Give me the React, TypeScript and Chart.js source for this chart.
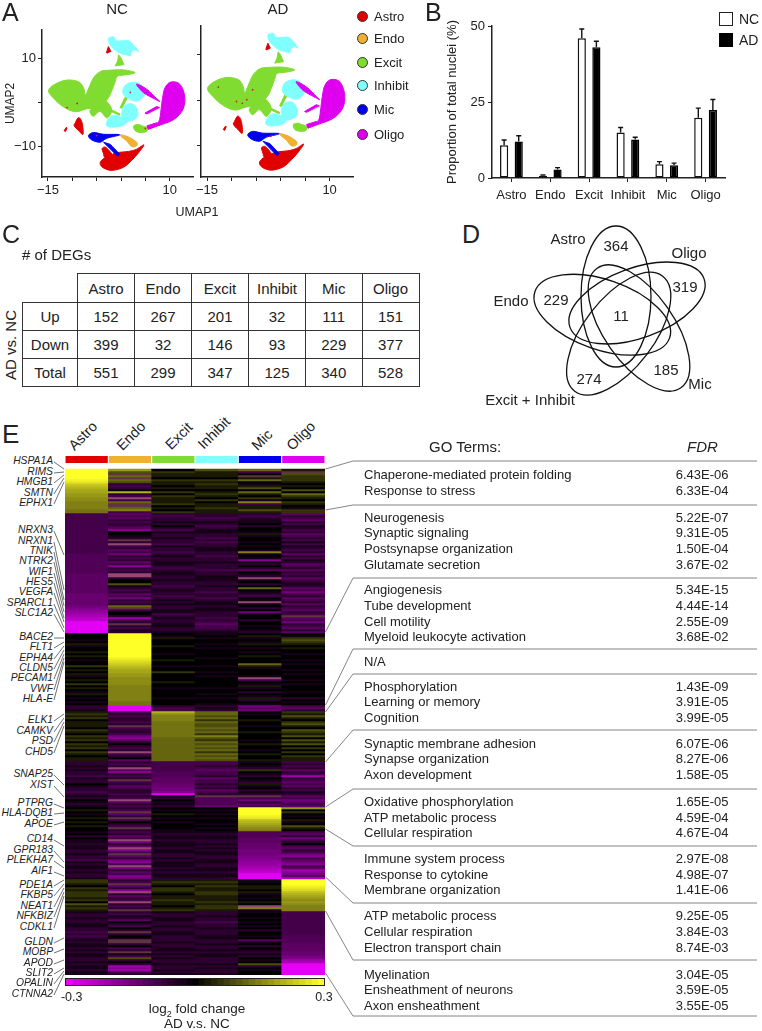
import React, { useEffect, useRef } from "react";
import { Chart, registerables } from "chart.js";
Chart.register(...registerables);

const FONT = '"Liberation Sans", Arial, sans-serif';
Chart.defaults.font.family = FONT;
Chart.defaults.color = "#222";

/* ---------- shared ---------- */
const cellTypes = ["Astro", "Endo", "Excit", "Inhibit", "Mic", "Oligo"];
const cellColors = ["#e00000", "#f0b030", "#80dc30", "#80ffff", "#0000f0", "#e000f0"];

/* ---------- A: UMAP outlines, in UMAP units ---------- */
type P = [number, number];
const excitMain: P[] = [[-14.9,2.6],[-13.5,4.1],[-11.1,5],[-8.7,4.6],[-7.7,3.2],[-7.3,1.6],[-6.7,3],[-5.6,5.6],[-4.3,6.9],[-2.9,7.2],[0.5,7.3],[2.9,6.7],[1.2,6.2],[-0.7,5.9],[-1.2,4.6],[-1.9,2.6],[-2.7,0.8],[-4.8,-1.3],[-6.9,-1.5],[-9.4,-2.2],[-11.8,-1.1],[-13.8,0.8]];
const excitTop: P[] = [[-0.5,10.7],[0,10],[0.6,8.5],[-1.2,8.2],[-0.7,9.3]];
const excitMid: P[] = [[-6.3,-1.8],[-5,-0.7],[-3.9,0.4],[-2.9,0.1],[-1.9,-1.8],[-2.9,-3.6],[-4.3,-2.1],[-5.6,-3.2],[-6.2,-2.7]];
const excitLower: P[] = [[2.6,-5.4],[3.6,-5.1],[4.3,-5.4],[5.3,-5.8],[5.2,-6.7],[3.9,-6.9],[2.9,-6.5]];
const excitStrandA: P[] = [[-0.2,-1.25],[1.1,1.7],[1.3,1.0],[0.2,-1.4]];
const excitStrandB: P[] = [[-1.9,-1.8],[-0.2,-2.7],[-0.3,-3.0],[-2.1,-2.1]];
const inhibitTop: P[] = [[-2.6,14.4],[-1.5,14.8],[-0.9,13.9],[1.5,13.9],[2.6,12.9],[3.6,11.5],[2.9,11.8],[2.2,11.5],[1.9,10.5],[1.1,10.7],[-0.2,11.1],[-1.2,11.8],[-2.2,12.9]];
const inhibitBlobA: P[] = [[0.4,2.9],[1.2,4.1],[2.9,4.5],[4.3,3.75],[4.9,2.6],[4.6,1.2],[3.2,0.2],[1.5,0.8],[0.5,1.7]];
const inhibitBlobB: P[] = [[0.2,-2.1],[0.8,-0.7],[2.2,-0.4],[3.2,-1.4],[3.4,-3.2],[2.2,-4.2],[0.8,-4.2],[0.2,-3.2]];
const inhibitBlobC: P[] = [[-3,-4.7],[-2.4,-3.5],[-1.2,-3],[0.4,-3.6],[1.2,-4.5],[0.2,-5.4],[-1.9,-5.7],[-2.9,-5.4]];
const oligoMain: P[] = [[10.1,4.5],[11.8,4.3],[12.8,2.6],[13.1,0.1],[12.5,-2.1],[11.1,-3.75],[9.4,-4.7],[7.3,-5.3],[7.9,-4],[8.2,-1.8],[8.5,0.8],[9,3.2]];
const oligoStrandA: P[] = [[3.2,4.1],[5.3,2.9],[7.3,0.8],[8,0.1],[6.7,0.8],[4.9,1.9],[3.9,2.9]];
const oligoStrandB: P[] = [[4.9,-2.5],[7.3,-1],[7.9,-1.25],[5.3,-2.7]];
const oligoTail: P[] = [[5.3,-5.4],[7.3,-4.7],[8,-5.2],[5.6,-6.2]];
const astroMain: P[] = [[-4.3,-13.9],[-3.7,-14.9],[-1.9,-15.5],[0.5,-14.8],[2.2,-13.2],[3.6,-11.5],[4.7,-9.7],[3.2,-10.7],[1.5,-11.2],[-0.9,-11.5],[-2.6,-12.3],[-3.8,-13]];
const astroBranch: P[] = [[-3.9,-10.6],[-3.3,-10.2],[-2.6,-10.8],[-1.9,-11.8],[-1.9,-12.4],[-3.3,-12.6],[-3.6,-11.7]];
const astroLeft: P[] = [[-9.4,-4.7],[-8.7,-3.5],[-8,-4.7],[-7.8,-7.3],[-8.7,-6.5],[-9.6,-5.4]];
const astroTiny: P[] = [[-11.7,-6.5],[-11.2,-5.7],[-11.1,-5.9],[-11.4,-6.7]];
const astroTop: P[] = [[-3,11.25],[-2.6,12.6],[-2.1,11.5],[-2.9,11.1]];
const micMain: P[] = [[-6.7,-7.6],[-5.6,-6.9],[-3.6,-7.3],[-0.2,-7.4],[-2.9,-8.2],[-4.3,-9.1],[-6,-8.6]];
const micStrand: P[] = [[-3.6,-9.1],[-2.2,-9.6],[-0.3,-11.8],[-0.7,-12.3],[-2.6,-10.2]];
const endoMain: P[] = [[-0.2,-7.4],[1.5,-7.9],[3.2,-9.1],[3.2,-9.9],[2.2,-10.1],[1.1,-8.75],[0.2,-8]];
const umapShapes: { pts: P[]; c: number }[] = [
  { pts: excitMain, c: 2 }, { pts: excitTop, c: 2 }, { pts: excitMid, c: 2 }, { pts: excitLower, c: 2 },
  { pts: excitStrandA, c: 2 }, { pts: excitStrandB, c: 2 },
  { pts: inhibitTop, c: 3 }, { pts: inhibitBlobA, c: 3 }, { pts: inhibitBlobB, c: 3 }, { pts: inhibitBlobC, c: 3 },
  { pts: oligoMain, c: 5 }, { pts: oligoStrandA, c: 5 }, { pts: oligoStrandB, c: 5 }, { pts: oligoTail, c: 5 },
  { pts: astroMain, c: 0 }, { pts: astroBranch, c: 0 }, { pts: astroLeft, c: 0 }, { pts: astroTiny, c: 0 }, { pts: astroTop, c: 0 },
  { pts: micMain, c: 4 }, { pts: micStrand, c: 4 }, { pts: endoMain, c: 1 },
];
const specksNC: P[] = [[-11.1,-1.25],[-9,-0.3],[-5,-7.6],[1.9,2.2],[5,-6]];
const specksAD: P[] = [[-12.7,2.9],[-6.9,0.1],[-5.7,2.3],[-9,-0.3],[-7.8,-0.7],[-2,-8]];
const umapXTicks = [-15, -10, -5, 0, 5, 10];
const umapYTicks = [-10, 0, 10];

/* ---------- B ---------- */
const nucleiNC = [10.8, 0.7, 46, 15, 4.5, 19.8];
const nucleiAD = [12, 2.8, 43, 12.7, 4.2, 22.4];
const nucleiNCTop = [12.5, 1, 49, 16.6, 5.4, 23];
const nucleiADTop = [13.9, 3.4, 45, 13.4, 4.9, 25.8];

/* ---------- C ---------- */
const degRows = ["Up", "Down", "Total"];
const degUp = [152, 267, 201, 32, 111, 151];
const degDown = [399, 32, 146, 93, 229, 377];
const degTotal = [551, 299, 347, 125, 340, 528];

/* ---------- D ---------- */
const vennSets = ["Astro", "Oligo", "Mic", "Excit + Inhibit", "Endo"];
const vennCx = [106, 127, 129, 108.7, 92.3];
const vennCy = [81.5, 88, 113, 118.7, 99.7];
const vennAngles = [0, 70, -35, 37.4, -71];
const vennLong = [70.5, 71.3, 73, 72.4, 71.2];

/* ---------- E: heatmap, one string per block per column.
   0 none; 1..9 +0.03..+0.27; X +0.3; half steps A=.135 B=.165 C=.195 D=.225 E=.255 F=.285
   a..j -0.03..-0.30; half steps k=-.105 l=-.135 m=-.165 n=-.195 o=-.225 p=-.255
   u, v mixed stripes ---------- */
const blockRows = [22, 60, 36, 3, 25, 17, 6, 12, 24, 16, 32];
const astroCol = [
  "XXXXXF98D7CC66BB5555AA",
  "cccccccccccccccccccckkkkkkkkkkddddddddddllllllemfngohpjjjjjj",
  "000a01a001010a0020101a0102010a10a0a0", "bba",
  "1212011102102120212021011", "bbababbcabb0abbcb", "ab0aba", "010a01010100",
  "a0b0aabaabbabbcabaababba", "2210212221203121", "abbabbaabbcbcbabaababaabbabaabaa",
];
const endoCol = [
  "63v4v43bcb07bcuc4vv45c",
  "dcdbcbcdf00abvbucbdcebcbdcfbcbuub003abcbdcebcb4vc00bgcbvbcab",
  "XXXXXXXXXXXXF9E8D7CC66BBBB55555555AA", "jjj",
  "cbcbbcbvcbbcefdb0bcbucb0d", "bcbudfbcbvcbdcbbc", "bcudbc", "bcvdbvc0bcvb",
  "cbdcuebdufcvdbefcuebdcfe", "bcvdbfubdbcubcbv", "bcabd0bc0bvb0avvb0cbvac3b0bgfgcb",
];
const excitCol = [
  "0211021101020211120102",
  "bcbbab0bcabbabbcabbcbabbaabcbaabbabbcbabbcbababbaacbabbaabba",
  "0a10001000a00100a0020000100a0000a000", "bcc",
  "7B555AAAAAAAA444444444444", "ccccckkkdddlleefj", "ab0aab", "0a010a0a000a",
  "abaabaaabaabbabaaababaab", "1210221011211012", "abbaabbabbaabbbabbaabababbabbaba",
];
const inhibitCol = [
  "3111021211012102011211",
  "bbcbabcbaabbcbcbbaabbcbbabbbcbbaaabbabbcbbcbaabaabbbcbcdccba",
  "a0a00a0a0000a000a00a0a00000a00a0a00a", "bab",
  "4434243343425324343424343", "ccbcdccbdccbcbdcb", "vkkkkl", "0a0a0a00a0a0",
  "abaabbababaabbaabbaabaab", "1212112211121221", "bbabbcbbabbbaabbabbabaabbbababba",
];
const micCol = [
  "4c0v140a1304102a5c1131",
  "bcbaa0b00a1a00a0a0a5a0afab0bd0abua0b040abc0aua0b0ea00b00a0ab",
  "01a0a10a0a0100041a000auc0a1a0b0a1b0a", "ede",
  "0a00100a001000a0100a01001", "a0ab20ab0ab1a0bab", "vcebdc", "XXXXF9D7C6B5",
  "kkkdddllleeemmfnngohpjjj", "0a01101a0a010u5a", "a00a0a0a0b00a0da0b0abab0a03b0a00",
];
const oligoCol = [
  "1v32221010304210210a22",
  "dbcdbcabcbdcbcacabcbdbcabdcbdbcbdcbabdcecbdcbdbcdbcvdcebcdbd",
  "0a23210100a00a0a00a0a00a0a000a00b0a0", "cdb",
  "2131023103213031302020211", "cbcbdbcgbcdcdbcab", "dcedcd", "6020a01a0310",
  "cdbecb0cdbcefcdefcdgfedh", "XXXF9ED7C6B6B555", "cccccccccccckkkkddddllemgojjjjjj",
];
const heatColumns = [astroCol, endoCol, excitCol, inhibitCol, micCol, oligoCol];
const colorbarSteps = [-0.3,-0.285,-0.27,-0.255,-0.24,-0.225,-0.21,-0.195,-0.18,-0.165,-0.15,-0.135,-0.12,-0.105,-0.09,-0.075,-0.06,-0.045,-0.03,-0.015,0,0.015,0.03,0.045,0.06,0.075,0.09,0.105,0.12,0.135,0.15,0.165,0.18,0.195,0.21,0.225,0.24,0.255,0.27,0.285,0.3];

const geneLabels = ["HSPA1A","RIMS","HMGB1","SMTN","EPHX1","NRXN3","NRXN1","TNIK","NTRK2","WIF1","HES5","VEGFA","SPARCL1","SLC1A2","BACE2","FLT1","EPHA4","CLDN5","PECAM1","VWF","HLA-E","ELK1","CAMKV","PSD","CHD5","SNAP25","XIST","PTPRG","HLA-DQB1","APOE","CD14","GPR183","PLEKHA7","AIF1","PDE1A","FKBP5","NEAT1","NFKBIZ","CDKL1","GLDN","MOBP","APOD","SLIT2","OPALIN","CTNNA2"];
const geneY = [461,472,482,493,503,530,541,551,561,572,582,592,603,613,637,647,658,668,678,689,699,720,731,741,752,774,785,803,813,824,839,850,860,871,885,895,906,916,927,942,952,963,973,983,994];
const geneTarget = [469,472,475,478,482,555,590,600,606,612,618,622,628,632,638,642,646,650,654,658,662,714,718,722,726,785,797,808,813,822,846,862,868,876,880,884,888,892,896,938,949,960,968,971,974];

const goTerms = ["Chaperone-mediated protein folding","Response to stress","Neurogenesis","Synaptic signaling","Postsynapse organization","Glutamate secretion","Angiogenesis","Tube development","Cell motility","Myeloid leukocyte activation","N/A","Phosphorylation","Learning or memory","Cognition","Synaptic membrane adhesion","Synapse organization","Axon development","Oxidative phosphorylation","ATP metabolic process","Cellular respiration","Immune system process","Response to cytokine","Membrane organization","ATP metabolic process","Cellular respiration","Electron transport chain","Myelination","Ensheathment of neurons","Axon ensheathment"];
const goFdr = ["6.43E-06","6.33E-04","5.22E-07","9.31E-05","1.50E-04","3.67E-02","5.34E-15","4.44E-14","2.55E-09","3.68E-02","","1.43E-09","3.91E-05","3.99E-05","6.07E-06","8.27E-06","1.58E-05","1.65E-05","4.59E-04","4.67E-04","2.97E-08","4.98E-07","1.41E-06","9.25E-05","3.84E-03","8.74E-03","3.04E-05","3.59E-05","3.55E-05"];
const goY = [474,489.7,516.7,532.3,548,563.7,589.3,605,620.7,636.3,661.3,685.7,701.3,717,742.7,758.3,774,801,816.7,832.3,858.3,873.7,889.3,915.3,931,946.7,973.7,989.3,1005];
const goRules = [[469,461],[510,505],[632,578],[705,649],[712,674],[762,730],[807,789],[829,846],[877,903],[911,960],[973,1016]];

/* ---------- helpers ---------- */
function heatColor(v: number): string {
  const t = Math.min(1, Math.abs(v) / 0.3);
  if (v >= 0) return `rgb(${Math.round(255 * t)},${Math.round(255 * t)},${Math.round(40 * t)})`;
  return `rgb(${Math.round(228 * t)},0,${Math.round(245 * t)})`;
}
const halfUp: Record<string, number> = { A: 0.135, B: 0.165, C: 0.195, D: 0.225, E: 0.255, F: 0.285, X: 0.3 };
const halfDown: Record<string, number> = { k: -0.105, l: -0.135, m: -0.165, n: -0.195, o: -0.225, p: -0.255 };
function cellColor(ch: string): string {
  if (ch === "u") return "rgb(150,72,115)";
  if (ch === "v") return "rgb(95,52,66)";
  if (ch in halfUp) return heatColor(halfUp[ch]);
  if (ch in halfDown) return heatColor(halfDown[ch]);
  if (ch >= "1" && ch <= "9") return heatColor(Number(ch) * 0.03);
  if (ch >= "a" && ch <= "j") return heatColor(-(ch.charCodeAt(0) - 96) * 0.03);
  return "rgb(0,0,0)";
}
function fixedBox(left: number, top: number, right: number, bottom: number) {
  return {
    layout: { padding: { left: 0, top, right, bottom: 0 } },
    leftFit: (s: any) => { s.width = left; },
    bottomFit: (s: any) => { s.height = bottom; },
  };
}
const polygonPlugin = {
  id: "polygons",
  beforeDatasetsDraw(chart: any) {
    const { ctx, scales: { x, y } } = chart;
    chart.data.datasets.forEach((d: any) => {
      if (!d.polygon) return;
      const pts = d.data.map((p: any) => [x.getPixelForValue(p.x), y.getPixelForValue(p.y)]);
      const n = pts.length;
      ctx.beginPath();
      ctx.moveTo(pts[0][0], pts[0][1]);
      for (let i = 0; i < n; i++) {
        const p0 = pts[(i - 1 + n) % n], p1 = pts[i], p2 = pts[(i + 1) % n], p3 = pts[(i + 2) % n];
        if (n >= 6) {
          ctx.bezierCurveTo(p1[0] + (p2[0] - p0[0]) / 6, p1[1] + (p2[1] - p0[1]) / 6, p2[0] - (p3[0] - p1[0]) / 6, p2[1] - (p3[1] - p1[1]) / 6, p2[0], p2[1]);
        } else {
          ctx.lineTo(p2[0], p2[1]);
        }
      }
      ctx.closePath();
      ctx.fillStyle = d.polygon;
      ctx.strokeStyle = d.polygon;
      ctx.lineJoin = "round";
      ctx.lineWidth = 1;
      ctx.fill();
      ctx.stroke();
    });
  },
};
const errorPlugin = {
  id: "errorBars",
  afterDatasetsDraw(chart: any) {
    const { ctx, scales: { y } } = chart;
    chart.data.datasets.forEach((d: any, i: number) => {
      const meta = chart.getDatasetMeta(i);
      d.tops.forEach((top: number, j: number) => {
        const bx = meta.data[j].x, y0 = y.getPixelForValue(d.data[j]), y1 = y.getPixelForValue(top);
        ctx.strokeStyle = "#111";
        ctx.lineWidth = 1.4;
        ctx.beginPath();
        ctx.moveTo(bx, y0); ctx.lineTo(bx, y1);
        ctx.moveTo(bx - 2.5, y1); ctx.lineTo(bx + 2.5, y1);
        ctx.stroke();
      });
    });
  },
};
const vennPlugin = {
  id: "venn",
  afterDatasetsDraw(chart: any) {
    const { ctx, scales: { x, y } } = chart;
    chart.data.datasets.forEach((d: any) => {
      const p = d.data[0];
      ctx.beginPath();
      ctx.ellipse(x.getPixelForValue(p.x), y.getPixelForValue(p.y), 35, d.long, (d.angle * Math.PI) / 180, 0, Math.PI * 2);
      ctx.strokeStyle = "#111";
      ctx.lineWidth = 1.3;
      ctx.stroke();
    });
  },
};

function T(props: { x: number; y: number; s: number; children: any; anchor?: "l" | "c" | "r"; rot?: number; italic?: boolean; color?: string }) {
  const { x, y, s, children, anchor = "c", rot = 0, italic, color = "#222" } = props;
  const tx = anchor === "l" ? "0" : anchor === "r" ? "-100%" : "-50%";
  return (
    <span style={{ position: "absolute", left: x, top: y, fontSize: s, lineHeight: 1, whiteSpace: "nowrap", color, fontStyle: italic ? "italic" : "normal", transform: `translate(${tx},-50%) rotate(${rot}deg)` }}>
      {children}
    </span>
  );
}

export default function App() {
  const umapNC = useRef<HTMLCanvasElement>(null);
  const umapAD = useRef<HTMLCanvasElement>(null);
  const bars = useRef<HTMLCanvasElement>(null);
  const venn = useRef<HTMLCanvasElement>(null);
  const heat = useRef<HTMLCanvasElement>(null);
  const cbar = useRef<HTMLCanvasElement>(null);

  useEffect(() => {
    const charts: Chart[] = [];
    const base = { animation: false as const, responsive: false, events: [] as any[], plugins: { legend: { display: false }, tooltip: { enabled: false } } };

    const makeUmap = (el: HTMLCanvasElement, specks: P[], showY: boolean, box: any) => {
      const fit = fixedBox(box.left, box.top, box.right, box.bottom);
      return new Chart(el, {
        type: "scatter",
        data: {
          datasets: [
            ...umapShapes.map((s) => ({ polygon: cellColors[s.c], data: s.pts.map(([x, y]) => ({ x, y })), pointRadius: 0, showLine: false })),
            { data: specks.map(([x, y]) => ({ x, y })), pointRadius: 0.9, backgroundColor: "#d02020", borderWidth: 0, showLine: false },
          ] as any,
        },
        options: {
          ...base,
          layout: fit.layout,
          scales: {
            x: {
              min: -16.23, max: 14.77,
              afterBuildTicks: (s: any) => { s.ticks = umapXTicks.map((value) => ({ value })); },
              afterFit: fit.bottomFit,
              grid: { drawOnChartArea: false, tickLength: 4, color: "#222" },
              border: { color: "#222", width: 1.5 },
              ticks: { autoSkip: false, maxRotation: 0, padding: 2, font: { size: 13 }, color: "#222", callback: (v: any) => (v === -15 ? "\u221215" : v === 10 ? "10" : "") },
            },
            y: {
              min: -17, max: 16.4,
              afterBuildTicks: (s: any) => { s.ticks = umapYTicks.map((value) => ({ value })); },
              afterFit: fit.leftFit,
              grid: { drawOnChartArea: false, tickLength: 4, color: "#222" },
              border: { color: "#222", width: 1.5 },
              title: { display: showY, text: "UMAP2", font: { size: 12 }, color: "#222", padding: 0 },
              ticks: { display: showY, padding: 2, font: { size: 13 }, color: "#222", callback: (v: any) => (v === -10 ? "\u221210" : v === 10 ? "10" : "") },
            },
          },
        } as any,
        plugins: [polygonPlugin],
      });
    };
    charts.push(makeUmap(umapNC.current!, specksNC, true, { left: 39, top: 6, right: 7, bottom: 43 }));
    charts.push(makeUmap(umapAD.current!, specksAD, false, { left: 9, top: 6, right: 7, bottom: 43 }));

    const barFit = fixedBox(47, 26, 37, 37);
    charts.push(new Chart(bars.current!, {
      type: "bar",
      data: {
        labels: cellTypes,
        datasets: [
          { label: "NC", data: nucleiNC, tops: nucleiNCTop, backgroundColor: "#fff", borderColor: "#111", borderWidth: 1.5, borderSkipped: false, categoryPercentage: 0.752, barPercentage: 0.56 },
          { label: "AD", data: nucleiAD, tops: nucleiADTop, backgroundColor: "#000", borderColor: "#000", borderWidth: 1.5, borderSkipped: false, categoryPercentage: 0.752, barPercentage: 0.56 },
        ] as any,
      },
      options: {
        ...base,
        layout: barFit.layout,
        scales: {
          x: {
            afterFit: barFit.bottomFit,
            grid: { drawOnChartArea: false, offset: false, tickLength: 4, color: "#222" },
            border: { color: "#222", width: 1.5 },
            ticks: { padding: 6, maxRotation: 0, autoSkip: false, font: { size: 13 }, color: "#222" },
          },
          y: {
            min: 0, max: 50,
            afterBuildTicks: (s: any) => { s.ticks = [0, 25, 50].map((value) => ({ value })); },
            afterFit: barFit.leftFit,
            grid: { drawOnChartArea: false, tickLength: 4, color: "#222" },
            border: { color: "#222", width: 1.5 },
            title: { display: true, text: "Proportion of total nuclei (%)", font: { size: 13 }, color: "#222", padding: 0 },
            ticks: { padding: 3, font: { size: 13 }, color: "#222" },
          },
        },
      } as any,
      plugins: [errorPlugin],
    }));

    charts.push(new Chart(venn.current!, {
      type: "scatter",
      data: {
        datasets: vennSets.map((label, i) => ({ label, angle: vennAngles[i], long: vennLong[i], data: [{ x: vennCx[i], y: vennCy[i] }], pointRadius: 0 })) as any,
      },
      options: {
        ...base,
        scales: { x: { display: false, min: 0, max: 220 }, y: { display: false, reverse: true, min: 0, max: 195 } },
      } as any,
      plugins: [vennPlugin],
    }));

    const totalRows = blockRows.reduce((a, b) => a + b, 0);
    const rows: string[][] = [];
    blockRows.forEach((n, b) => {
      for (let r = 0; r < n; r++) {
        rows.push(heatColumns.map((col) => cellColor(col[b][r] ?? "0")));
      }
    });
    charts.push(new Chart(heat.current!, {
      type: "bar",
      data: {
        labels: cellTypes,
        datasets: [
          { data: cellTypes.map(() => 3.5), backgroundColor: cellColors, barPercentage: 0.975, categoryPercentage: 1 },
          { data: cellTypes.map(() => 3), backgroundColor: "rgba(0,0,0,0)", barPercentage: 1, categoryPercentage: 1 },
          ...rows.map((row) => ({ data: row.map(() => 1), backgroundColor: row, barPercentage: 1, categoryPercentage: 1, borderWidth: 0 })),
        ] as any,
      },
      options: {
        ...base,
        scales: {
          x: { stacked: true, display: false },
          y: { stacked: true, display: false, reverse: true, min: 0, max: totalRows + 6.5 },
        },
      } as any,
    }));

    charts.push(new Chart(cbar.current!, {
      type: "bar",
      data: {
        labels: ["log2 fold change"],
        datasets: colorbarSteps.map((v) => ({ data: [1], backgroundColor: heatColor(v), barPercentage: 1, categoryPercentage: 1 })) as any,
      },
      options: {
        ...base,
        indexAxis: "y",
        scales: {
          x: { stacked: true, display: false, min: 0, max: colorbarSteps.length },
          y: { stacked: true, display: false },
        },
      } as any,
    }));

    return () => charts.forEach((c) => c.destroy());
  }, []);

  const abs = (left: number, top: number): React.CSSProperties => ({ position: "absolute", left, top, display: "block" });
  const legendY = [15.7, 38.3, 62, 85, 108.7, 133.7];
  const tableCols = [55, 57, 57, 57, 57, 56.5, 57];
  const tableData = [degUp, degDown, degTotal];

  return (
    <div style={{ position: "absolute", left: 0, top: 0, width: 762, height: 1031, background: "#fff", overflow: "hidden", fontFamily: FONT }}>
      {/* A */}
      <canvas ref={umapNC} width={197} height={200} style={abs(3, 20)} />
      <canvas ref={umapAD} width={168} height={200} style={abs(192, 20)} />
      <T x={2} y={12} s={25} anchor="l">A</T>
      <T x={117} y={8} s={15}>NC</T>
      <T x={278} y={8} s={15}>AD</T>
      <T x={197} y={212} s={12.5}>UMAP1</T>
      {cellTypes.map((c, i) => (
        <React.Fragment key={c}>
          <span style={{ position: "absolute", left: 357, top: legendY[i] - 5, width: 9, height: 9, borderRadius: "50%", background: cellColors[i], border: "1px solid #333" }} />
          <T x={374} y={legendY[i]} s={13} anchor="l">{c}</T>
        </React.Fragment>
      ))}

      {/* B */}
      <canvas ref={bars} width={317} height={215} style={abs(445, 0)} />
      <T x={425} y={12} s={25} anchor="l">B</T>
      <span style={{ position: "absolute", left: 719, top: 12, width: 12, height: 12, background: "#fff", border: "1.5px solid #222" }} />
      <span style={{ position: "absolute", left: 719, top: 33, width: 13.5, height: 13.5, background: "#000" }} />
      <T x={739} y={19} s={14} anchor="l">NC</T>
      <T x={739} y={40} s={14} anchor="l">AD</T>

      {/* C */}
      <T x={2} y={234} s={25} anchor="l">C</T>
      <T x={22} y={254} s={15} anchor="l"># of DEGs</T>
      <T x={10} y={345} s={15} rot={-90}>AD vs. NC</T>
      <table style={{ position: "absolute", left: 22, top: 273, borderCollapse: "collapse", tableLayout: "fixed", width: 396.5, fontSize: 15, color: "#222", textAlign: "center" }}>
        <colgroup>{tableCols.map((w, i) => <col key={i} style={{ width: w }} />)}</colgroup>
        <tbody>
          <tr style={{ height: 29 }}>
            <td style={{ padding: 0 }} />
            {cellTypes.map((c) => <td key={c} style={{ border: "1.5px solid #333", padding: 0 }}>{c}</td>)}
          </tr>
          {degRows.map((r, i) => (
            <tr key={r} style={{ height: 28 }}>
              <td style={{ border: "1.5px solid #333", padding: 0 }}>{r}</td>
              {tableData[i].map((v, j) => <td key={j} style={{ border: "1.5px solid #333", padding: 0 }}>{v}</td>)}
            </tr>
          ))}
        </tbody>
      </table>

      {/* D */}
      <canvas ref={venn} width={220} height={195} style={abs(510, 215)} />
      <T x={462} y={234} s={25} anchor="l">D</T>
      <T x={568} y={238} s={15}>Astro</T>
      <T x={616} y={245} s={15}>364</T>
      <T x={689} y={252} s={15}>Oligo</T>
      <T x={685} y={286} s={15}>319</T>
      <T x={556} y={299} s={15}>229</T>
      <T x={511} y={300} s={15}>Endo</T>
      <T x={621} y={315} s={15}>11</T>
      <T x={589} y={378} s={15}>274</T>
      <T x={666} y={369} s={15}>185</T>
      <T x={700} y={383} s={15}>Mic</T>
      <T x={530} y={399} s={15}>Excit + Inhibit</T>

      {/* E */}
      <T x={2} y={434} s={26} anchor="l">E</T>
      {cellTypes.map((c, i) => (
        <T key={c} x={[83, 131, 179, 214, 262, 301][i]} y={[436, 436, 436, 433, 440, 436][i]} s={14.5} rot={-45}>{c}</T>
      ))}
      <canvas ref={heat} width={260} height={519} style={{ ...abs(65, 456), filter: "blur(0.45px)" }} />
      <canvas ref={cbar} width={258} height={6} style={{ ...abs(66, 979), outline: "1.5px solid #222" }} />
      <T x={71.7} y={997} s={12.5}>-0.3</T>
      <T x={324} y={997} s={12.5}>0.3</T>
      <T x={197} y={1009} s={13.5}>log<sub style={{ fontSize: 9, lineHeight: 0 }}>2</sub> fold change</T>
      <T x={197} y={1024} s={13.5}>AD v.s. NC</T>
      {geneLabels.map((g, i) => (
        <T key={g} x={53} y={geneY[i]} s={10.3} anchor="r" italic>{g}</T>
      ))}
      <svg width={762} height={1031} style={{ position: "absolute", left: 0, top: 0, pointerEvents: "none" }}>
        {geneLabels.map((g, i) => (
          <line key={g} x1={54} y1={geneY[i] + 1} x2={64} y2={geneTarget[i]} stroke="#333" strokeWidth={0.7} />
        ))}
        {goRules.map(([from, to], i) => (
          <polyline key={i} points={`325.5,${from} 353,${to} 757,${to}`} fill="none" stroke="#777" strokeWidth={0.9} />
        ))}
      </svg>
      <T x={429} y={446} s={15} anchor="l">GO Terms:</T>
      <T x={687} y={446} s={15} anchor="l" italic>FDR</T>
      {goTerms.map((t, i) => (
        <React.Fragment key={i}>
          <T x={364} y={goY[i]} s={13} anchor="l">{t}</T>
          <T x={675.7} y={goY[i]} s={13} anchor="l">{goFdr[i]}</T>
        </React.Fragment>
      ))}
    </div>
  );
}
